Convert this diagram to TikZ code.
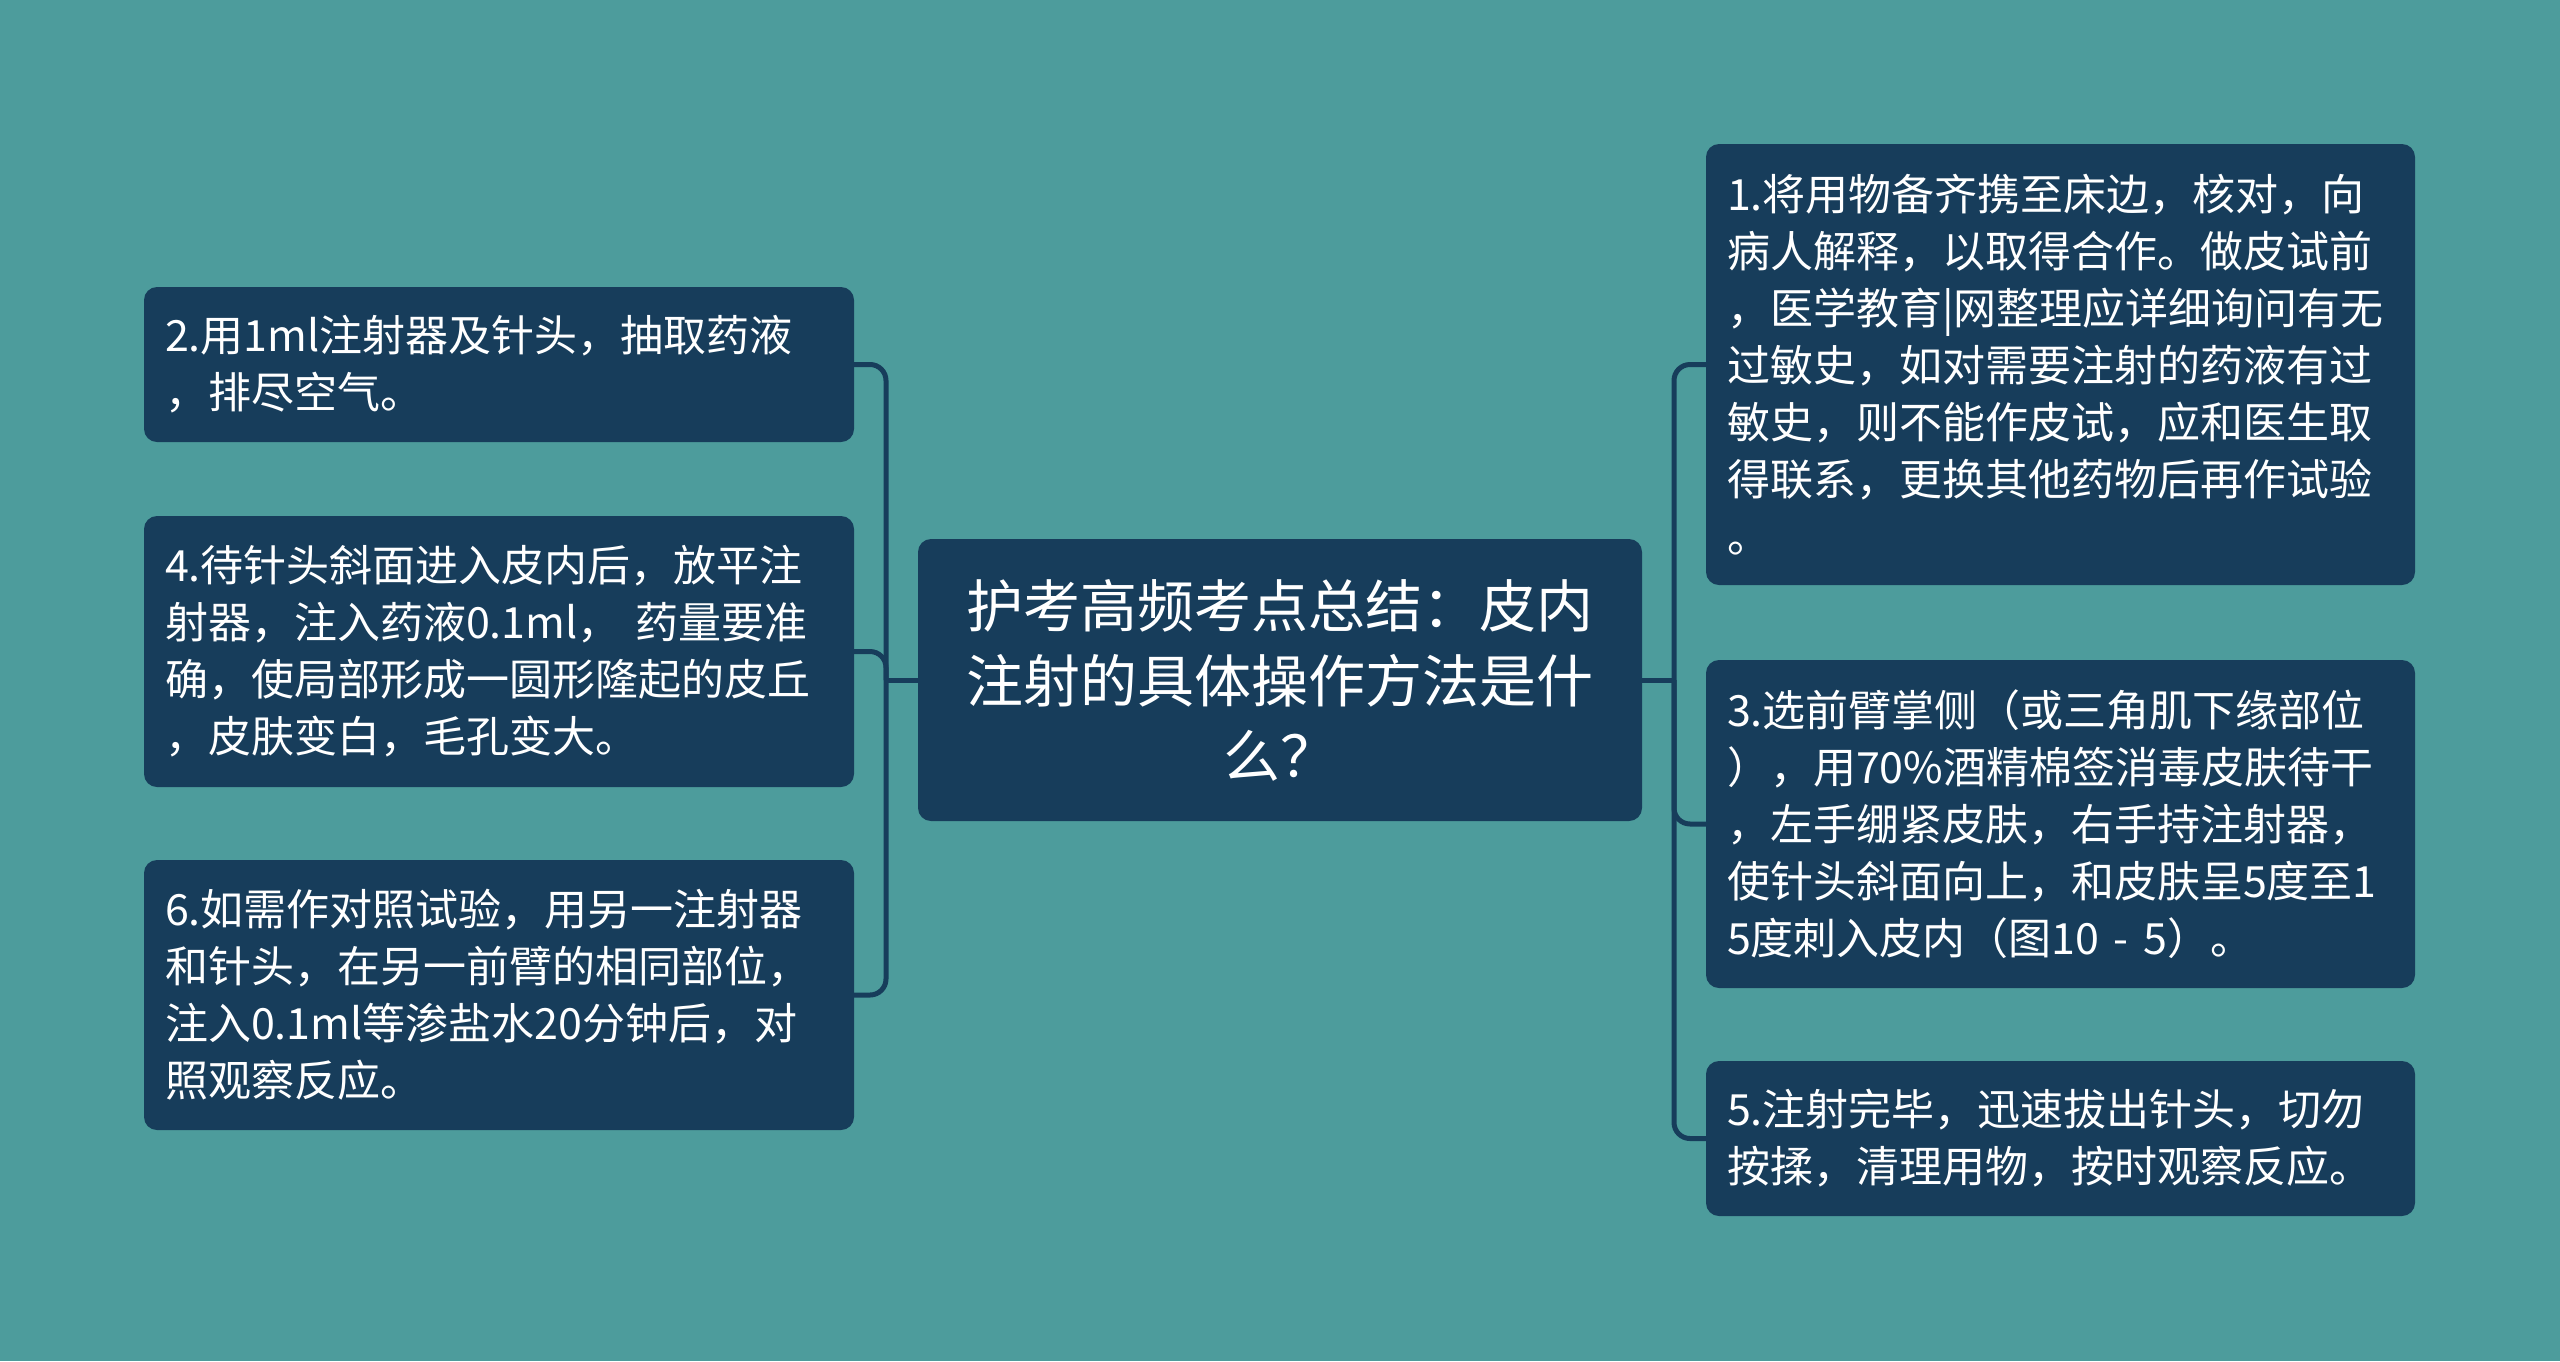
\documentclass[tikz,border=0pt]{standalone}
\usepackage{fontspec}
\newfontfamily\cjk{Noto Sans CJK SC}
\definecolor{bgc}{HTML}{4D9C9C}
\definecolor{boxc}{HTML}{173D5B}
\tikzset{
  box/.style={fill=boxc, rounded corners=13pt, text=white, inner xsep=21pt, inner ysep=0pt, align=left,
    font=\cjk\fontsize{43}{57}\selectfont},
  lbox/.style={box, minimum width=710pt, text width=668pt},
  rbox/.style={box, minimum width=709pt, text width=667pt},
  cbox/.style={fill=boxc, rounded corners=13pt, text=white, align=center, inner sep=0pt,
    minimum width=724pt, minimum height=282pt, text width=680pt,
    font=\cjk\fontsize{57}{75}\selectfont},
  conn/.style={draw=boxc, line width=5pt, rounded corners=16pt}
}
\begin{document}
\begin{tikzpicture}[x=1pt,y=-1pt]
\fill[bgc] (0,0) rectangle (2560,1361);
\useasboundingbox (0,0) rectangle (2560,1361);

\node[cbox] (c) at (1280,680) {护考高频考点总结：皮内\\注射的具体操作方法是什\\么？};

\node[lbox, minimum height=155pt] (b2) at (499,364.5) {2.用1ml注射器及针头，抽取药液\\，排尽空气。};
\node[lbox, minimum height=271pt] (b4) at (499,651.5) {4.待针头斜面进入皮内后，放平注\\射器，注入药液0.1ml， 药量要准\\确，使局部形成一圆形隆起的皮丘\\，皮肤变白，毛孔变大。};
\node[lbox, minimum height=270pt] (b6) at (499,995) {6.如需作对照试验，用另一注射器\\和针头，在另一前臂的相同部位，\\注入0.1ml等渗盐水20分钟后，对\\照观察反应。};

\node[rbox, minimum height=441pt] (b1) at (2060.5,364.5) {1.将用物备齐携至床边，核对，向\\病人解释，以取得合作。做皮试前\\，医学教育|网整理应详细询问有无\\过敏史，如对需要注射的药液有过\\敏史，则不能作皮试，应和医生取\\得联系，更换其他药物后再作试验\\。};
\node[rbox, minimum height=328pt] (b3) at (2060.5,824) {3.选前臂掌侧（或三角肌下缘部位\\），用70\%酒精棉签消毒皮肤待干\\，左手绷紧皮肤，右手持注射器，\\使针头斜面向上，和皮肤呈5度至1\\5度刺入皮内（图10 - 5）。};
\node[rbox, minimum height=155pt] (b5) at (2060.5,1138.5) {5.注射完毕，迅速拔出针头，切勿\\按揉，清理用物，按时观察反应。};

\coordinate (L) at (886,680);
\coordinate (R) at (1674,680);

\draw[conn] (c.west) -- (L);
\draw[conn] (c.east) -- (R);
\draw[conn] (L) |- (b2.east);
\draw[conn] (L) |- (b4.east);
\draw[conn] (L) |- (b6.east);
\draw[conn] (R) |- (b1.west);
\draw[conn] (R) |- (b3.west);
\draw[conn] (R) |- (b5.west);
\end{tikzpicture}
\end{document}
